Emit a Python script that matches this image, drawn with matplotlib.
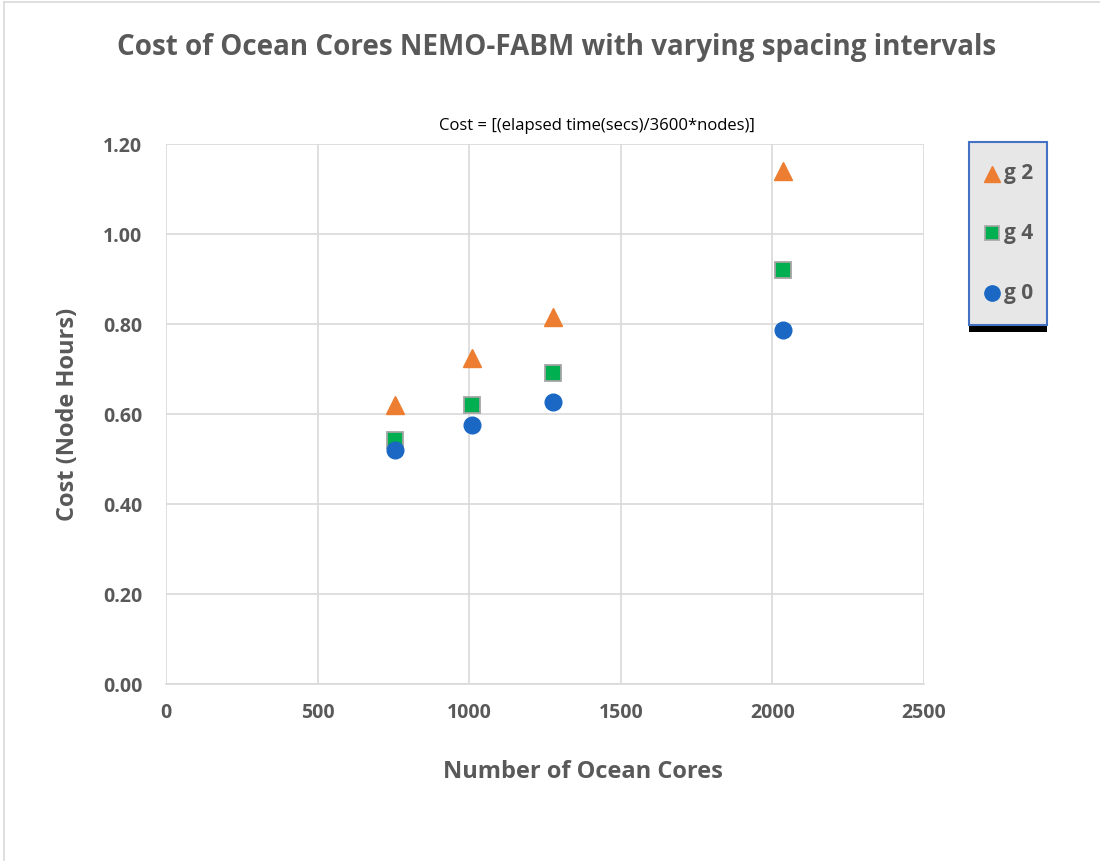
import matplotlib
matplotlib.use("Agg")
import matplotlib.pyplot as plt
from matplotlib.patches import Rectangle
from matplotlib.lines import Line2D

# Data
cores = [756, 1008, 1276, 2034]
cost_g2 = [0.62, 0.724, 0.816, 1.14]
cost_g4 = [0.542, 0.62, 0.692, 0.92]
cost_g0 = [0.52, 0.576, 0.627, 0.787]
series_names = ["g 2", "g 4", "g 0"]
x_ticks = [0, 500, 1000, 1500, 2000, 2500]
y_ticks = [0.0, 0.2, 0.4, 0.6, 0.8, 1.0, 1.2]

ORANGE = "#ED7D31"
GREEN = "#00B050"
BLUE = "#1A68C4"
GREY_TXT = "#595959"
GRID = "#D9D9D9"

plt.rcParams["font.family"] = ["Open Sans", "DejaVu Sans"]

W, H = 1100, 861
fig = plt.figure(figsize=(W / 100, H / 100), dpi=100)
fig.patch.set_facecolor("white")


def fx(x):
    return x / W


def fy(y):
    return 1 - y / H


# outer chart-area border (left and top edges visible)
fig.add_artist(Line2D([fx(4), fx(4)], [fy(2), fy(861)], color="#D9D9D9", lw=1.2,
                      transform=fig.transFigure))
fig.add_artist(Line2D([fx(4), fx(1100)], [fy(2), fy(2)], color="#D9D9D9", lw=1.2,
                      transform=fig.transFigure))

AX_L, AX_R, AX_T, AX_B = 166, 924, 144, 684
ax = fig.add_axes([fx(AX_L), fy(AX_B), fx(AX_R) - fx(AX_L), fy(AX_T) - fy(AX_B)])
ax.set_xlim(0, 2500)
ax.set_ylim(0, 1.2)
ax.set_xticks(x_ticks)
ax.set_yticks(y_ticks)
ax.set_xticklabels([str(v) for v in x_ticks])
ax.set_yticklabels([f"{v:.2f}" for v in y_ticks])
for lbl in ax.get_xticklabels() + ax.get_yticklabels():
    lbl.set_fontweight("bold")
    lbl.set_color(GREY_TXT)
    lbl.set_fontsize(14)
ax.tick_params(axis="both", length=0)
ax.tick_params(axis="x", pad=14)
ax.tick_params(axis="y", pad=17)
ax.grid(True, color=GRID, lw=1.2)
ax.set_axisbelow(True)
for s in ["top", "right", "left"]:
    ax.spines[s].set_visible(False)
ax.spines["bottom"].set_color(GRID)
ax.spines["bottom"].set_linewidth(1.2)

ax.plot(cores, cost_g2, linestyle="none", marker="^", markersize=13,
        color=ORANGE, markeredgecolor=ORANGE, zorder=3)
ax.plot(cores, cost_g4, linestyle="none", marker="s", markersize=11,
        color=GREEN, markeredgecolor="#A5A5A5", markeredgewidth=1.3, zorder=3)
ax.plot(cores, cost_g0, linestyle="none", marker="o", markersize=12,
        color=BLUE, markeredgecolor=BLUE, zorder=4)

ax.set_xlabel("Number of Ocean Cores", fontsize=17, fontweight="bold",
              color=GREY_TXT, va="center")
ax.xaxis.set_label_coords((583 - AX_L) / (AX_R - AX_L), (AX_B - 772) / (AX_B - AX_T))
ax.set_ylabel("Cost (Node Hours)", fontsize=17, fontweight="bold",
              color=GREY_TXT, va="center")
ax.yaxis.set_label_coords((68 - AX_L) / (AX_R - AX_L), 0.5)

fig.text(fx(557), fy(47), "Cost of Ocean Cores NEMO-FABM with varying spacing intervals",
         ha="center", va="center", fontsize=20, fontweight="bold", color=GREY_TXT)
fig.text(fx(597), fy(126), "Cost = [(elapsed time(secs)/3600*nodes)]",
         ha="center", va="center", fontsize=12, color="black")

# legend box
fig.add_artist(Rectangle((fx(969), fy(332)), fx(1047) - fx(969), fy(325) - fy(332),
                         transform=fig.transFigure, facecolor="black", edgecolor="none"))
fig.add_artist(Rectangle((fx(969), fy(325)), fx(1047) - fx(969), fy(142) - fy(325),
                         transform=fig.transFigure, facecolor="#E7E7E7",
                         edgecolor="#4472C4", lw=1.5))
leg_y = [174, 233, 293]
leg_style = [
    dict(marker="^", markersize=12, color=ORANGE, markeredgecolor=ORANGE),
    dict(marker="s", markersize=10, color=GREEN, markeredgecolor="#A5A5A5", markeredgewidth=1.2),
    dict(marker="o", markersize=11, color=BLUE, markeredgecolor=BLUE),
]
for name, y, st in zip(series_names, leg_y, leg_style):
    fig.add_artist(Line2D([fx(992)], [fy(y)], linestyle="none",
                          transform=fig.transFigure, **st))
    fig.text(fx(1004), fy(y), name, ha="left", va="center", fontsize=15,
             fontweight="bold", color=GREY_TXT)

fig.savefig("out.png", dpi=100, facecolor="white")
